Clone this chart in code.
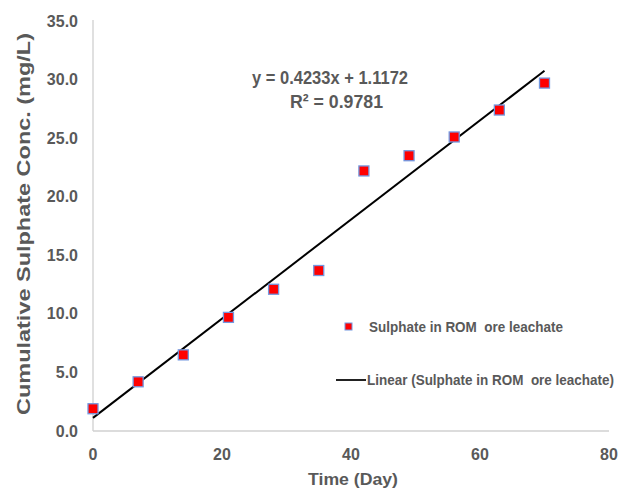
<!DOCTYPE html>
<html>
<head>
<meta charset="utf-8">
<script src="https://cdn.jsdelivr.net/npm/d3@7"></script>
<style>
  body { margin: 0; background: #fff; }
  text { font-family: 'Liberation Sans', Arial, sans-serif; font-weight: bold; fill: #595959; }
</style>
</head>
<body>
<div id="chart"></div>
<script>
const days = [0, 7, 14, 21, 28, 35, 42, 49, 56, 63, 70]
const sulphate = [1.9, 4.2, 6.5, 9.7, 12.1, 13.7, 22.2, 23.5, 25.1, 27.4, 29.7]
const xTicks = [0, 20, 40, 60, 80]
const yTicks = [0, 5, 10, 15, 20, 25, 30, 35]
const slope = 0.4233
const intercept = 1.1172
const r2 = 0.9781

const width = 618
const height = 493
const margin = { top: 21, left: 93, right: 9, bottom: 62 }

const svg = d3
  .select('#chart')
  .append('svg')
  .attr('width', width)
  .attr('height', height)

const xScale = d3
  .scaleLinear()
  .domain([0, 80])
  .range([margin.left, width - margin.right])

const yScale = d3
  .scaleLinear()
  .domain([0, 35])
  .range([height - margin.bottom, margin.top])

// axes lines
svg
  .append('line')
  .attr('x1', xScale(0))
  .attr('x2', xScale(0))
  .attr('y1', yScale(0))
  .attr('y2', yScale(35) - 1)
  .attr('stroke', '#d0d0d0')
  .attr('stroke-width', 1.3)

svg
  .append('line')
  .attr('x1', xScale(0))
  .attr('x2', xScale(80))
  .attr('y1', yScale(0))
  .attr('y2', yScale(0))
  .attr('stroke', '#d0d0d0')
  .attr('stroke-width', 1.3)

svg
  .selectAll('.y-tick')
  .data(yTicks)
  .enter()
  .append('text')
  .attr('class', 'y-tick')
  .attr('x', xScale(0) - 15)
  .attr('y', d => yScale(d))
  .attr('dy', '0.35em')
  .attr('text-anchor', 'end')
  .attr('font-size', 16)
  .text(d => d.toFixed(1))

svg
  .selectAll('.x-tick')
  .data(xTicks)
  .enter()
  .append('text')
  .attr('class', 'x-tick')
  .attr('x', d => xScale(d))
  .attr('y', yScale(0) + 29)
  .attr('text-anchor', 'middle')
  .attr('font-size', 16)
  .text(d => d)

// trendline
svg
  .append('line')
  .attr('x1', xScale(days[0]))
  .attr('y1', yScale(intercept + slope * days[0]))
  .attr('x2', xScale(days[days.length - 1]))
  .attr('y2', yScale(intercept + slope * days[days.length - 1]))
  .attr('stroke', 'black')
  .attr('stroke-width', 2)

// points
const pts = days.map((d, i) => ({ x: d, y: sulphate[i] }))
svg
  .selectAll('.pt')
  .data(pts)
  .enter()
  .append('rect')
  .attr('class', 'pt')
  .attr('x', d => xScale(d.x) - 5)
  .attr('y', d => yScale(d.y) - 5)
  .attr('width', 10)
  .attr('height', 10)
  .attr('fill', '#ff0000')
  .attr('stroke', '#7398e0')
  .attr('stroke-width', 1.3)

// equation
svg
  .append('text')
  .attr('x', 252)
  .attr('y', 84)
  .attr('font-size', 19)
  .attr('textLength', 156)
  .attr('lengthAdjust', 'spacingAndGlyphs')
  .text('y = ' + slope + 'x + ' + intercept)

svg
  .append('text')
  .attr('x', 290)
  .attr('y', 108)
  .attr('font-size', 19)
  .attr('textLength', 93)
  .attr('lengthAdjust', 'spacingAndGlyphs')
  .text('R² = ' + r2)

// legend
svg
  .append('rect')
  .attr('x', 345)
  .attr('y', 323)
  .attr('width', 7)
  .attr('height', 7)
  .attr('fill', '#ff0000')
  .attr('stroke', '#7398e0')
  .attr('stroke-width', 1)

svg
  .append('text')
  .attr('x', 369)
  .attr('y', 332)
  .attr('font-size', 15)
  .attr('textLength', 194)
  .attr('lengthAdjust', 'spacingAndGlyphs')
  .style('white-space', 'pre')
  .text('Sulphate in ROM  ore leachate')

svg
  .append('line')
  .attr('x1', 336)
  .attr('x2', 366)
  .attr('y1', 380)
  .attr('y2', 380)
  .attr('stroke', '#222')
  .attr('stroke-width', 2)

svg
  .append('text')
  .attr('x', 367)
  .attr('y', 385)
  .attr('font-size', 15)
  .attr('textLength', 247)
  .attr('lengthAdjust', 'spacingAndGlyphs')
  .style('white-space', 'pre')
  .text('Linear (Sulphate in ROM  ore leachate)')

// axis titles
svg
  .append('text')
  .attr('x', 308)
  .attr('y', 485)
  .attr('font-size', 17)
  .attr('textLength', 90)
  .attr('lengthAdjust', 'spacingAndGlyphs')
  .text('Time (Day)')

svg
  .append('text')
  .attr('transform', 'translate(30,' + 415 + ') rotate(-90)')
  .attr('font-size', 19)
  .attr('textLength', 382)
  .attr('lengthAdjust', 'spacingAndGlyphs')
  .text('Cumulative Sulphate Conc. (mg/L)')
</script>
</body>
</html>
